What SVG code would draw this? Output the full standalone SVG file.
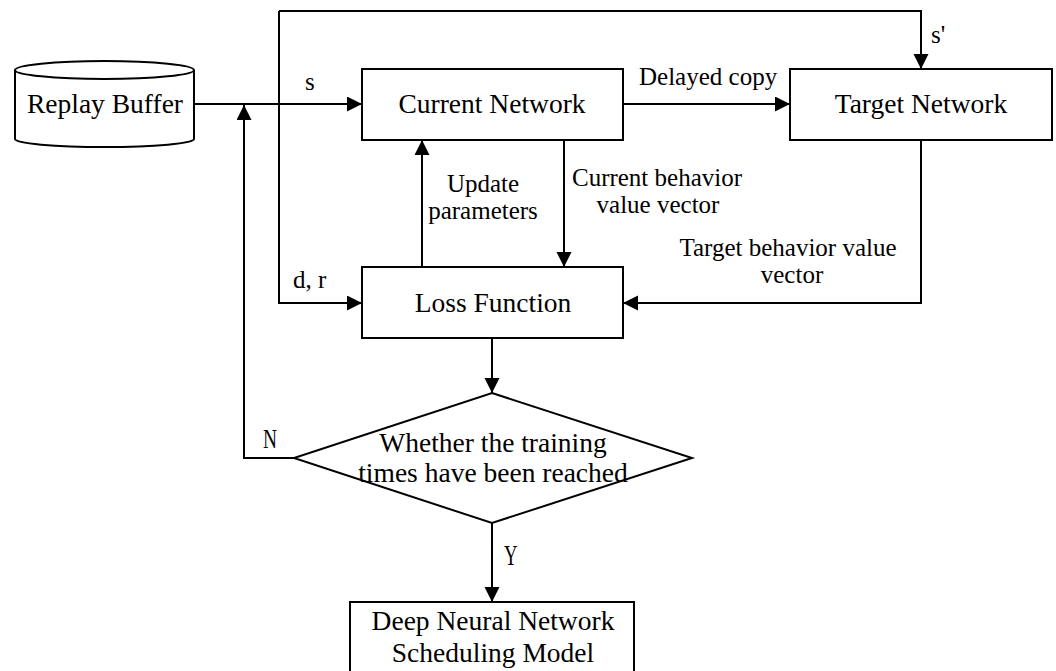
<svg xmlns="http://www.w3.org/2000/svg" width="1056" height="671" viewBox="0 0 1056 671">
<defs>
<marker id="arr" markerUnits="userSpaceOnUse" markerWidth="16" markerHeight="16" viewBox="0 0 16 16" refX="15" refY="7.5" orient="auto">
<path d="M0,0 L15,7.5 L0,15 Z" fill="#000"/>
</marker>
<style>
.box{fill:#fff;stroke:#000;stroke-width:2}
.ln{fill:none;stroke:#000;stroke-width:2;marker-end:url(#arr)}
.t{font-family:"Liberation Serif","Times New Roman",serif;fill:#000}
.big{font-size:27.5px}
.sm{font-size:25px}
</style>
</defs>
<rect width="1056" height="671" fill="#fff"/>
<g id="connectors">
<path class="ln" d="M194,104 H362"/>
<path class="ln" d="M279,11 V303 H362"/>
<path class="ln" d="M279,11 H921 V69"/>
<path class="ln" d="M623,104 H790"/>
<path class="ln" d="M564,140 V267"/>
<path class="ln" d="M422,267 V140"/>
<path class="ln" d="M921,140 V303 H623"/>
<path class="ln" d="M492,338 V393"/>
<path class="ln" d="M492,523 V602"/>
<path class="ln" d="M294,458 H244 V105"/>
<text class="t sm" x="305" y="90">s</text>
<text class="t sm" x="931" y="43">s'</text>
<text class="t sm" x="639" y="85">Delayed copy</text>
<text class="t sm" x="483" y="192" text-anchor="middle">Update</text>
<text class="t sm" x="483" y="219" text-anchor="middle">parameters</text>
<text class="t sm" x="657" y="186" text-anchor="middle">Current behavior</text>
<text class="t sm" x="658" y="213" text-anchor="middle">value vector</text>
<text class="t sm" x="788" y="256" text-anchor="middle">Target behavior value</text>
<text class="t sm" x="792" y="283" text-anchor="middle">vector</text>
<text class="t sm" x="293" y="288">d, r</text>
<text class="t" font-size="27" transform="translate(263,448) scale(0.72,1)">N</text>
<text class="t" font-size="29" transform="translate(504,565) scale(0.65,1)">Y</text>
</g>
<g id="replay-buffer">
<path class="box" d="M15,70 A89.5,9 0 0 1 194,70 V139 A89.5,8 0 0 1 15,139 Z"/>
<path d="M15,70 A89.5,9 0 0 0 194,70" fill="none" stroke="#000" stroke-width="2"/>
<text class="t big" x="105" y="113" text-anchor="middle">Replay Buffer</text>
</g>
<g id="current-network">
<rect class="box" x="362" y="69" width="261" height="71"/>
<text class="t big" x="492" y="113" text-anchor="middle">Current Network</text>
</g>
<g id="target-network">
<rect class="box" x="790" y="69" width="262" height="71"/>
<text class="t big" x="921" y="113" text-anchor="middle">Target Network</text>
</g>
<g id="loss-function">
<rect class="box" x="362" y="267" width="261" height="71"/>
<text class="t big" x="493" y="312" text-anchor="middle">Loss Function</text>
</g>
<g id="decision">
<path class="box" d="M492,393 L692,458 L492,523 L294,458 Z"/>
<text class="t big" x="493" y="452" text-anchor="middle">Whether the training</text>
<text class="t big" x="493" y="482" text-anchor="middle">times have been reached</text>
</g>
<g id="dnn-model">
<rect class="box" x="350" y="602" width="284" height="90"/>
<text class="t big" x="493" y="630" text-anchor="middle">Deep Neural Network</text>
<text class="t big" x="493" y="662" text-anchor="middle">Scheduling Model</text>
</g>
</svg>
